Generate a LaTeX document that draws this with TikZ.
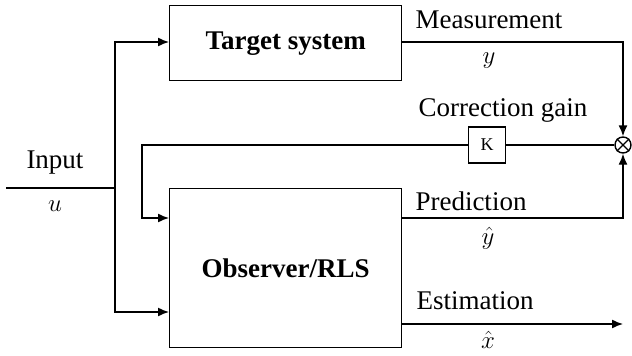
\documentclass[tikz,border=0pt]{standalone}
\usepackage{fontspec}
\setmainfont{Liberation Serif}
\usetikzlibrary{arrows.meta}
\begin{document}
\begin{tikzpicture}[x=1pt,y=-1pt,
  line width=1.4pt,
  blk/.style={draw,line width=1.4pt,inner sep=0pt,anchor=north west},
  lbl/.style={inner sep=0pt,font=\fontsize{27}{30}\selectfont},
  blbl/.style={inner sep=0pt,font=\fontsize{27}{30}\selectfont\bfseries},
  arr/.style={-{Latex[length=11pt,width=9pt]}},
  wire/.style={line width=1.4pt}]
\useasboundingbox (0,0) rectangle (632,356);
% blocks
\node[blk,minimum width=232pt,minimum height=75pt] (ts) at (169,5) {};
\node[blbl] at (ts.center) {Target system};
\node[blk,minimum width=232pt,minimum height=159pt] (obs) at (169,188) {};
\node[blbl] at (obs.center) {Observer/RLS};
\node[draw,line width=1.4pt,minimum width=37pt,minimum height=36pt,inner sep=0pt,font=\fontsize{18}{20}\selectfont] (K) at (487,145) {K};
\node[draw,circle,line width=1.4pt,minimum size=16pt,inner sep=0pt] (sum) at (623,145) {};
\draw[wire] (sum.north west) -- (sum.south east) (sum.north east) -- (sum.south west);
% coordinates
\coordinate (in) at (6,188);
\coordinate (br) at (115,188);
\coordinate (fb) at (142,145);
\coordinate (xo) at (623,324);
% input wiring
\draw[wire] (in) -- (br);
\draw[wire,arr] (br) |- (ts.west |- 0,42);
\draw[wire,arr] (br) |- (obs.west |- 0,312);
% measurement
\draw[wire,arr] (ts.east |- 0,42) -| (sum.north);
% prediction
\draw[wire,arr] (obs.east |- 0,218) -| (sum.south);
% correction feedback
\draw[wire] (sum.west) -- (K.east);
\draw[wire,arr] (K.west) -- (fb) |- (obs.west |- 0,218);
% estimation
\draw[wire,arr] (obs.east |- 0,324) -- (xo);
% labels
\node[lbl] at (55,163) {Input};
\node[lbl] at (55,206) {$u$};
\node[lbl] at (489,20) {Measurement};
\node[lbl] at (489,61) {$y$};
\node[lbl] at (503,110) {Correction gain};
\node[lbl] at (471,201) {Prediction};
\node[lbl] at (488,238) {$\hat{y}$};
\node[lbl] at (475,301) {Estimation};
\node[lbl] at (488,340) {$\hat{x}$};
\end{tikzpicture}
\end{document}
